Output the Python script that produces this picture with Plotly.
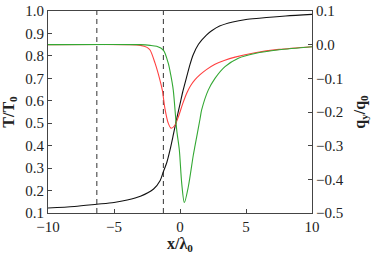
import plotly.graph_objects as go

# Temperature profile T/T0 (left axis)
x_T = [-10, -8, -6.3, -5, -4, -3, -2, -1.5, -1.26, -1, -0.76, -0.5, -0.25, 0, 0.2, 0.5, 0.76, 1.0, 1.4, 2, 2.4, 3, 4, 5, 6, 8, 10]
T = [0.122, 0.129, 0.139, 0.147, 0.158, 0.175, 0.207, 0.245, 0.284, 0.325, 0.38, 0.45, 0.52, 0.585, 0.638, 0.705, 0.762, 0.805, 0.852, 0.893, 0.912, 0.933, 0.951, 0.962, 0.968, 0.978, 0.985]

# Heat flux q_y/q0 (right axis), red
x_red = [-10, -4, -3, -2.5, -2.27, -1.89, -1.52, -1.34, -1.14, -0.9, -0.68, -0.4, -0.13, 0.2, 0.5, 0.8, 1.14, 1.52, 2.0, 2.65, 3.4, 4.17, 5.68, 7.5, 10]
q_red = [0, 0, -0.002, -0.008, -0.016, -0.055, -0.105, -0.135, -0.19, -0.232, -0.248, -0.24, -0.215, -0.176, -0.145, -0.122, -0.104, -0.089, -0.074, -0.058, -0.046, -0.037, -0.024, -0.014, -0.006]

# Heat flux q_y/q0 (right axis), green
x_green = [-10, -3, -2.27, -1.77, -1.26, -0.89, -0.7, -0.51, -0.25, -0.05, 0.13, 0.33, 0.63, 1.0, 1.14, 1.52, 1.64, 2.14, 2.65, 3.41, 4.42, 5.68, 7.5, 10]
q_green = [0, 0, -0.002, -0.005, -0.016, -0.055, -0.09, -0.135, -0.253, -0.313, -0.412, -0.469, -0.422, -0.33, -0.30, -0.22, -0.194, -0.135, -0.10, -0.065, -0.040, -0.026, -0.015, -0.006]

# Dashed vertical markers
x_marks = [-6.3, -1.26]

x_ticks = [-10, -5, 0, 5, 10]
x_ticktext = ["\u221210", "\u22125", "0", "5", "10"]
yl_ticks = [0.1, 0.2, 0.3, 0.4, 0.5, 0.6, 0.7, 0.8, 0.9, 1.0]
yl_ticktext = ["0.1", "0.2", "0.3", "0.4", "0.5", "0.6", "0.7", "0.8", "0.9", "1.0"]
yr_ticks = [-0.5, -0.4, -0.3, -0.2, -0.1, 0.0, 0.1]
yr_ticktext = ["\u22120.5", "\u22120.4", "\u22120.3", "\u22120.2", "\u22120.1", "0.0", "0.1"]

FONT = "Liberation Serif"
AX = "#444"

fig = go.Figure()
for xm in x_marks:
    fig.add_trace(go.Scatter(x=[xm, xm], y=[0.1, 1.0], mode="lines",
                             line=dict(color="#333", width=1, dash="5px,4px"),
                             showlegend=False, hoverinfo="skip"))
fig.add_trace(go.Scatter(x=x_T, y=T, mode="lines", line=dict(color="#111", width=1.1, shape="spline", smoothing=0.8),
                         showlegend=False))
fig.add_trace(go.Scatter(x=x_red, y=q_red, mode="lines", yaxis="y2",
                         line=dict(color="#ff4040", width=1.1, shape="spline", smoothing=0.8), showlegend=False))
fig.add_trace(go.Scatter(x=x_green, y=q_green, mode="lines", yaxis="y2",
                         line=dict(color="#33a833", width=1.1, shape="spline", smoothing=0.8), showlegend=False))

fig.update_layout(
    template="none",
    width=374, height=254,
    margin=dict(l=48, r=62, t=11, b=41, autoexpand=False),
    paper_bgcolor="white", plot_bgcolor="white",
    font=dict(family=FONT, size=15, color="#222"),
    xaxis=dict(range=[-10, 10], tickvals=x_ticks, ticktext=x_ticktext, automargin=False,
               ticks="inside", ticklen=4, tickcolor=AX, showgrid=False, zeroline=False,
               showline=True, linecolor=AX, linewidth=1.2, mirror=True,
               title=dict(text="<b>x/\u03bb<sub>0</sub></b>", standoff=0, font=dict(size=16))),
    yaxis=dict(range=[0.1, 1.0], tickvals=yl_ticks, ticktext=yl_ticktext, automargin=False,
               ticks="inside", ticklen=4, tickcolor=AX, showgrid=False, zeroline=False,
               showline=True, linecolor=AX, linewidth=1.2,
               title=dict(text="<b>T/T<sub>0</sub></b>", standoff=6, font=dict(size=16))),
    yaxis2=dict(range=[-0.5, 0.1], tickvals=yr_ticks, ticktext=yr_ticktext, overlaying="y", side="right",
                automargin=False,
                ticks="inside", ticklen=4, tickcolor=AX, showgrid=False, zeroline=False,
                showline=True, linecolor=AX, linewidth=1.2,
                title=dict(text="<b>q<sub>y</sub>/q<sub>0</sub></b>", standoff=10, font=dict(size=16))),
)

fig.write_html("out.html", config={"displayModeBar": False},
               post_script="document.body.style.margin='0';document.body.style.padding='0';")
